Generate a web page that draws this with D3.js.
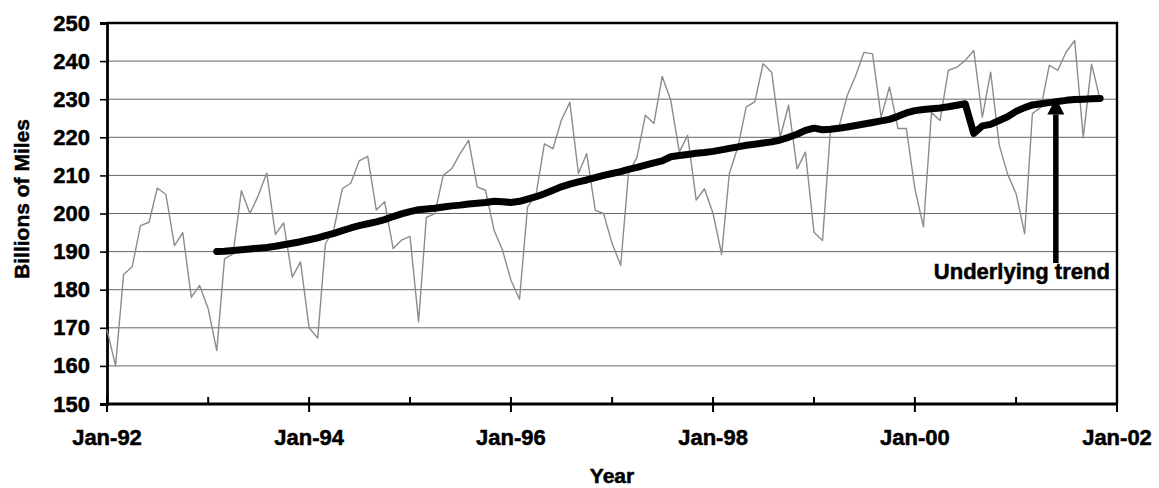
<!DOCTYPE html>
<html>
<head>
<meta charset="utf-8">
<script src="https://cdn.jsdelivr.net/npm/d3@7"></script>
<style>
  html, body { margin: 0; padding: 0; background: #fff; }
  svg text { font-family: "Liberation Sans", Arial, Helvetica, sans-serif; font-weight: bold; fill: #000; stroke: #000; stroke-width: 0.5px; }
</style>
</head>
<body>
<div id="chart"></div>
<script>
// monthly vehicle miles, Jan-92 .. Nov-01 (billions)
const startYear = 1992;
const milesValues = [
  169.5, 160.0, 184.0, 186.0, 196.8, 197.7, 206.7, 205.0, 191.6, 195.0, 178.0, 181.1,
  175.0, 164.0, 188.1, 189.4, 206.0, 200.0, 204.7, 210.6, 194.5, 197.5, 183.3, 187.3,
  170.0, 167.3, 192.0, 196.0, 206.5, 208.0, 213.8, 215.0, 200.9, 203.1, 190.8, 193.0,
  194.0, 171.6, 199.0, 200.0, 210.0, 211.8, 215.7, 219.2, 207.0, 206.1, 195.6, 190.5,
  182.5, 177.5, 201.7, 205.0, 218.3, 217.0, 224.4, 229.2, 210.5, 215.7, 200.8, 200.0,
  192.1, 186.4, 210.5, 214.8, 225.8, 223.6, 236.0, 229.7, 216.1, 220.5, 203.5, 206.5,
  200.0, 189.3, 210.5, 217.5, 228.0, 229.3, 239.3, 237.1, 220.0, 228.4, 211.7, 216.1,
  195.1, 192.9, 221.3, 222.6, 230.9, 236.2, 242.3, 241.9, 225.3, 233.2, 222.3, 222.3,
  206.5, 196.5, 226.5, 224.4, 237.6, 238.4, 240.2, 242.8, 225.3, 237.1, 218.0, 210.4,
  205.2, 194.7, 226.2, 227.9, 238.9, 237.6, 242.4, 245.4, 219.9, 239.2, 229.9
];

// underlying trend, starts Feb-93 (month index 13)
const trendStart = 13;
const trendValues = [
  190.0, 190.1, 190.3, 190.5, 190.7, 190.9, 191.1, 191.4, 191.8, 192.2, 192.6,
  193.1, 193.6, 194.2, 194.8, 195.5, 196.2, 196.8, 197.3, 197.8, 198.4, 199.2, 199.9,
  200.5, 201.0, 201.2, 201.4, 201.7, 202.0, 202.2, 202.5, 202.7, 202.9, 203.2, 203.1,
  202.9, 203.2, 203.8, 204.4, 205.2, 206.1, 207.0, 207.7, 208.3, 208.8, 209.4, 210.0,
  210.5, 211.0, 211.6, 212.1, 212.7, 213.3, 213.8, 214.9, 215.2, 215.5, 215.8, 216.0,
  216.3, 216.7, 217.1, 217.5, 217.9, 218.2, 218.5, 218.8, 219.3, 220.0, 220.8, 221.8,
  222.4, 222.0, 222.1, 222.4, 222.7, 223.1, 223.5, 223.9, 224.3, 224.7, 225.5, 226.4,
  227.0, 227.3, 227.5, 227.7, 228.0, 228.4, 228.8, 221.0, 223.0, 223.4, 224.4, 225.4,
  226.8, 227.8, 228.5, 228.8, 229.1, 229.4, 229.7, 229.9, 230.0, 230.1, 230.2
];

const yTicks = [150, 160, 170, 180, 190, 200, 210, 220, 230, 240, 250];
const xTickLabels = ["Jan-92", "Jan-94", "Jan-96", "Jan-98", "Jan-00", "Jan-02"];

const width = 1159, height = 488;
const margin = { top: 23, right: 42, bottom: 84, left: 107 };

const svg = d3.select("#chart").append("svg")
  .attr("width", width)
  .attr("height", height);

const xScale = d3.scaleTime()
  .domain([new Date(startYear, 0, 1), new Date(startYear + 10, 0, 1)])
  .range([margin.left, width - margin.right]);

const yScale = d3.scaleLinear()
  .domain([150, 250])
  .range([height - margin.bottom, margin.top]);

const x0 = xScale.range()[0], x1 = xScale.range()[1];
const y0 = yScale.range()[0], y1 = yScale.range()[1];

const miles = milesValues.map((v, i) => ({ date: new Date(startYear, i, 1), value: v }));
const trend = trendValues.map((v, i) => ({ date: new Date(startYear, trendStart + i, 1), value: v }));

// grid
svg.append("g")
  .selectAll("line")
  .data(yTicks.filter(d => d > 150 && d < 250))
  .join("line")
  .attr("x1", x0).attr("x2", x1)
  .attr("y1", d => yScale(d)).attr("y2", d => yScale(d))
  .attr("stroke", "#666")
  .attr("stroke-width", 1);

// frame top / right
svg.append("path")
  .attr("d", `M${x0},${y1}H${x1}V${y0}`)
  .attr("fill", "none")
  .attr("stroke", "#000")
  .attr("stroke-width", 2.4);

// y axis
const yAxis = d3.axisLeft(yScale)
  .tickValues(yTicks)
  .tickSize(7)
  .tickPadding(10)
  .tickFormat(d3.format("d"));

const gy = svg.append("g")
  .attr("transform", `translate(${x0},0)`)
  .call(yAxis);
gy.select(".domain").attr("stroke-width", 2.8);
gy.selectAll(".tick line").attr("stroke-width", 1.6);
gy.selectAll("text").style("font-size", "22px");

// x axis: major ticks every 2 years cross the axis, minor every year inside
const years = d3.range(0, 11).map(i => new Date(startYear + i, 0, 1));

svg.append("g")
  .selectAll("line")
  .data(years)
  .join("line")
  .attr("x1", d => xScale(d)).attr("x2", d => xScale(d))
  .attr("y1", y0 - 7)
  .attr("y2", (d, i) => i % 2 === 0 ? y0 + 8 : y0)
  .attr("stroke", "#000")
  .attr("stroke-width", 2);

svg.append("line")
  .attr("x1", x0 - 1).attr("x2", x1 + 1)
  .attr("y1", y0).attr("y2", y0)
  .attr("stroke", "#000")
  .attr("stroke-width", 3.2);

svg.append("g")
  .selectAll("text")
  .data(xTickLabels)
  .join("text")
  .attr("x", (d, i) => xScale(years[i * 2]))
  .attr("y", y0 + 41)
  .attr("text-anchor", "middle")
  .style("font-size", "22px")
  .text(d => d);

// axis titles
svg.append("text")
  .attr("x", (x0 + x1) / 2)
  .attr("y", 483)
  .attr("text-anchor", "middle")
  .style("font-size", "21px")
  .text("Year");

svg.append("text")
  .attr("transform", `translate(29,${199}) rotate(-90)`)
  .attr("text-anchor", "middle")
  .style("font-size", "21px")
  .text("Billions of Miles");

// monthly series
const line = d3.line()
  .x(d => xScale(d.date))
  .y(d => yScale(d.value));

svg.append("path")
  .datum(miles)
  .attr("fill", "none")
  .attr("stroke", "#8c8c8c")
  .attr("stroke-width", 1.4)
  .attr("stroke-linejoin", "round")
  .attr("d", line);

svg.append("path")
  .datum(trend)
  .attr("fill", "none")
  .attr("stroke", "#000")
  .attr("stroke-width", 7)
  .attr("stroke-linejoin", "round")
  .attr("stroke-linecap", "round")
  .attr("d", line);

// annotation arrow
const arrowX = xScale(new Date(2001, 5, 1)) - 2;
const arrowTip = yScale(230.3);
const arrowBase = yScale(226);
const arrowBottom = yScale(187);

svg.append("line")
  .attr("x1", arrowX).attr("x2", arrowX)
  .attr("y1", arrowBottom).attr("y2", arrowBase)
  .attr("stroke", "#000")
  .attr("stroke-width", 5.5);

svg.append("path")
  .attr("d", `M${arrowX},${arrowTip}L${arrowX - 8.5},${arrowBase}L${arrowX + 8.5},${arrowBase}Z`)
  .attr("fill", "#000");

svg.append("text")
  .attr("x", arrowX - 34)
  .attr("y", yScale(187) + 16)
  .attr("text-anchor", "middle")
  .style("font-size", "22px")
  .text("Underlying trend");
</script>
</body>
</html>
